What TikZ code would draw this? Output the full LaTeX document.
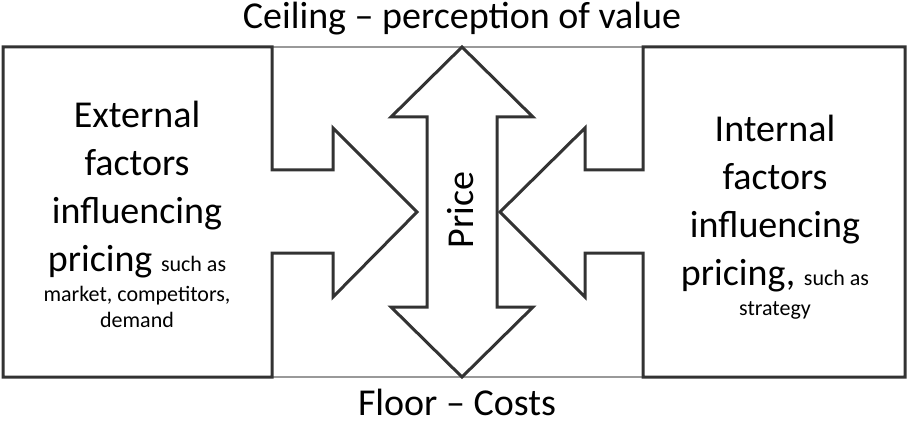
\documentclass[tikz,border=0pt]{standalone}
\usepackage{fontspec}
\setmainfont{Carlito}
\newcommand\detail[1]{{\fontsize{22}{26}\selectfont #1}}

\begin{document}
\begin{tikzpicture}[
  x=1pt, y=-1pt,
  every node/.style={inner sep=0pt, outer sep=0pt},
  outline/.style={draw=black!80, line width=3pt, line join=miter, fill=white},
  rail/.style={draw=black!40, line width=1.2pt},
  bound/.style={font=\fontsize{38}{46}\selectfont, text=black},
  factor/.style={font=\fontsize{38}{48}\selectfont, align=center, text=black}
]
\useasboundingbox (0,0) rectangle (908,425);

% Thin rails joining the two boxes at ceiling and floor
\coordinate (ceilL) at (272,47);
\coordinate (ceilR) at (643,47);
\coordinate (floorL) at (272,377);
\coordinate (floorR) at (643,377);
\draw[rail] (ceilL) -- (ceilR);
\draw[rail] (floorL) -- (floorR);

% External box with its arrow pointing right
\draw[outline] (3,47) -- (272,47) -- (272,170) -- (333,170) -- (333,128)
  -- (417,212) -- (333,297) -- (333,253) -- (272,253) -- (272,377)
  -- (3,377) -- cycle;

% Internal box with its arrow pointing left
\draw[outline] (905,47) -- (643,47) -- (643,170) -- (585,170) -- (585,128)
  -- (500,212) -- (585,297) -- (585,253) -- (643,253) -- (643,377)
  -- (905,377) -- cycle;

% Price: double arrow between floor and ceiling
\draw[outline] (462,47) -- (533,117) -- (497,117) -- (497,307) -- (533,307)
  -- (462,377) -- (391,307) -- (427,307) -- (427,117) -- (391,117) -- cycle;

\node[bound, anchor=base] (ceiling) at (462,29) {Ceiling -- perception of value};
\node[bound, anchor=base] (floor) at (457,415) {Floor -- Costs};
\node[bound, rotate=90, anchor=base] (price) at (473,210) {Price};

\node[factor] (external) at (137,214)
  {External\\factors\\influencing\\pricing \detail{such as}\\[-18pt]
   \detail{market, competitors,}\\[-22pt]\detail{demand}};
\node[factor] (internal) at (775,217)
  {Internal\\factors\\influencing\\pricing, \detail{such as}\\[-18pt]
   \detail{strategy}};

\end{tikzpicture}
\end{document}
